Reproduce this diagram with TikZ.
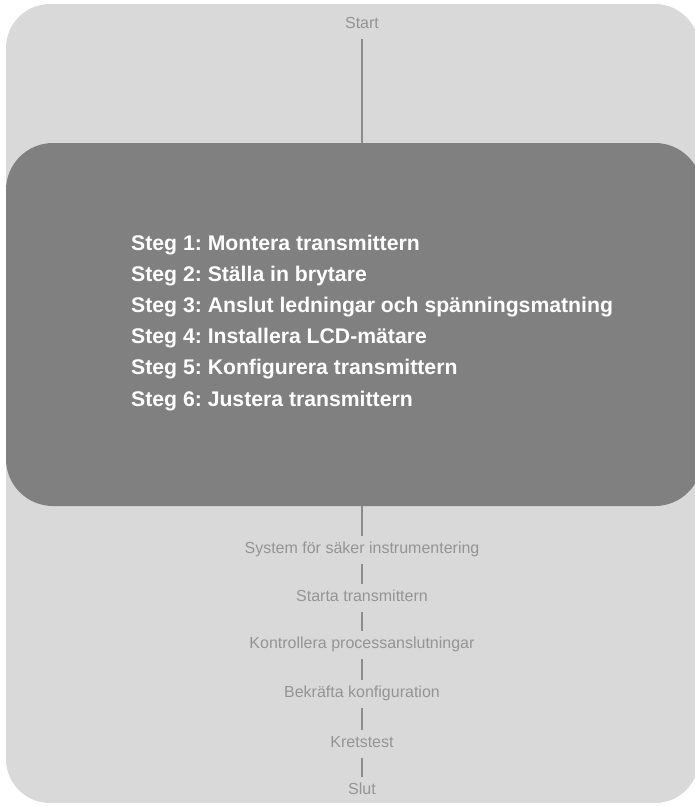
\documentclass[tikz,border=0pt]{standalone}
\usepackage{fontspec}
\setmainfont{Liberation Sans}
\frenchspacing
\definecolor{outerbg}{HTML}{D9D9D9}
\definecolor{darkbg}{HTML}{808080}
\definecolor{labelgray}{HTML}{949494}
\definecolor{linegray}{HTML}{8C8C8C}
\tikzset{
  steplabel/.style={anchor=base west, inner sep=0pt, text=white, font=\fontsize{21.2}{25}\selectfont\bfseries},
  flowlabel/.style={text=labelgray, font=\fontsize{16}{19}\selectfont, text height=10pt, text depth=4pt, inner xsep=2pt, inner ysep=7pt, anchor=base},
  conn/.style={draw=linegray, line width=2pt}
}
\begin{document}
\begin{tikzpicture}[x=1pt, y=-1pt]
\useasboundingbox (0,0) rectangle (695,806);
\begin{scope}
\clip (0,0) rectangle (695,806);
\fill[outerbg, rounded corners=44pt] (6,4) rectangle (699,803);
\node[fill=darkbg, rounded corners=47pt, minimum width=696pt, minimum height=363pt, inner sep=0pt] (box) at (354,324.5) {};
\end{scope}
\node[flowlabel] (start) at (362,28) {Start};
\foreach \i/\t in {1/{Steg 1: Montera transmittern},2/{Steg 2: Ställa in brytare},3/{Steg 3: Anslut ledningar och spänningsmatning},4/{Steg 4: Installera LCD-mätare},5/{Steg 5: Konfigurera transmittern},6/{Steg 6: Justera transmittern}}
  \node[steplabel] (s\i) at (131,{250+31.2*(\i-1)}) {\t};
\node[flowlabel] (n1) at (362,553) {System för säker instrumentering};
\node[flowlabel] (n2) at (362,601) {Starta transmittern};
\node[flowlabel] (n3) at (362,648) {Kontrollera processanslutningar};
\node[flowlabel] (n4) at (362,697) {Bekräfta konfiguration};
\node[flowlabel] (n5) at (362,747) {Kretstest};
\node[flowlabel] (n6) at (362,794) {Slut};
\draw[conn] (start.south) -- (start.south |- box.north);
\draw[conn] (start.south |- box.south) -- (n1.north);
\draw[conn] (n1) -- (n2);
\draw[conn] (n2) -- (n3);
\draw[conn] (n3) -- (n4);
\draw[conn] (n4) -- (n5);
\draw[conn] (n5) -- (n6);
\end{tikzpicture}
\end{document}
